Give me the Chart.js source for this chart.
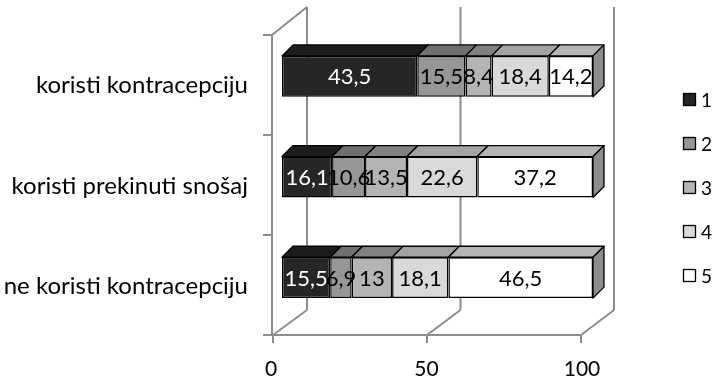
<!DOCTYPE html>
<html>
<head>
<meta charset="utf-8">
<script src="https://cdn.jsdelivr.net/npm/chart.js@4/dist/chart.umd.min.js"></script>
<style>
  html, body { margin: 0; padding: 0; background: #fff; }
  #wrap { width: 716px; height: 382px; }
</style>
</head>
<body>
<div id="wrap"><canvas id="c" width="716" height="382"></canvas></div>
<script>
// Categories (top to bottom) and the five answer groups, in percent
const categories = ['koristi kontracepciju', 'koristi prekinuti snošaj', 'ne koristi kontracepciju'];
const seriesNames = ['1', '2', '3', '4', '5'];
const s1 = [43.5, 16.1, 15.5];
const s2 = [15.5, 10.6, 6.9];
const s3 = [8.4, 13.5, 13];
const s4 = [18.4, 22.6, 18.1];
const s5 = [14.2, 37.2, 46.5];
const axisTicks = [0, 50, 100];

const frontColors = ['#262626', '#969696', '#b4b4b4', '#d9d9d9', '#ffffff'];
const topColors   = ['#1c1c1c', '#6f6f6f', '#818181', '#a3a3a3', '#b5b5b5'];
const sideColor = '#8c8c8c';
const frameColor = '#8c8c8c';
const FONT = 'Lato, "DejaVu Sans", sans-serif';

const DEPTH = 11; // bar depth offset (px, up and to the right)

function fmt(v) { return String(v).replace('.', ','); }

// Geometry helpers for the 3D frame, derived from the scales
function frameGeom(chart) {
  const xs = chart.scales.x, A = chart.chartArea;
  const px = v => xs.getPixelForValue(v);
  return {
    back: v => px(v) + 25 - 4 * (v / 100),
    floor: v => px(v) - 9 - 3 * (v / 100),
    backTop: A.top - 19,
    backBottom: A.bottom - 18,
    floorY: A.bottom + 7,
    sideTop: A.top + 9
  };
}

const framePlugin = {
  id: 'frame3d',
  beforeDatasetsDraw(chart) {
    const ctx = chart.ctx, A = chart.chartArea, ys = chart.scales.y;
    const g = frameGeom(chart);
    ctx.save();
    ctx.strokeStyle = frameColor;
    ctx.lineWidth = 2;
    ctx.lineCap = 'butt';
    const line = (x1, y1, x2, y2) => { ctx.beginPath(); ctx.moveTo(x1, y1); ctx.lineTo(x2, y2); ctx.stroke(); };
    const sideX = g.floor(0) - 1;
    // back wall gridlines and floor diagonals
    axisTicks.forEach(v => {
      line(g.back(v), g.backTop, g.back(v), g.backBottom);
      line(g.back(v), g.backBottom, g.floor(v), g.floorY);
      line(g.floor(v), g.floorY, g.floor(v), g.floorY + 8);
    });
    // front floor edge
    line(sideX - 1, g.floorY, g.floor(100) + 1, g.floorY);
    // side wall front edge + top diagonal
    line(sideX, g.sideTop, sideX, g.floorY);
    line(sideX, g.sideTop, g.back(0), g.backTop);
    // category separator ticks on the side wall edge
    const n = ys.ticks.length;
    for (let i = 0; i <= n; i++) {
      const y = g.sideTop + (g.floorY - g.sideTop) * i / n;
      line(sideX - 9, y, sideX, y);
    }
    ctx.restore();
  },
  afterDatasetsDraw(chart) {
    const ctx = chart.ctx;
    const nSets = chart.data.datasets.length;
    ctx.save();
    ctx.lineWidth = 1.3;
    ctx.strokeStyle = '#000';
    ctx.lineJoin = 'round';
    // top faces
    chart.data.datasets.forEach((ds, di) => {
      chart.getDatasetMeta(di).data.forEach(bar => {
        const x0 = Math.min(bar.base, bar.x), x1 = Math.max(bar.base, bar.x);
        const yt = bar.y - bar.height / 2;
        ctx.beginPath();
        ctx.moveTo(x0, yt); ctx.lineTo(x1, yt);
        ctx.lineTo(x1 + DEPTH, yt - DEPTH); ctx.lineTo(x0 + DEPTH, yt - DEPTH);
        ctx.closePath();
        ctx.fillStyle = topColors[di];
        ctx.fill(); ctx.stroke();
      });
    });
    // right side face of each bar (end of the last segment)
    chart.getDatasetMeta(nSets - 1).data.forEach(bar => {
      const x1 = Math.max(bar.base, bar.x);
      const yt = bar.y - bar.height / 2, yb = bar.y + bar.height / 2;
      ctx.beginPath();
      ctx.moveTo(x1, yt); ctx.lineTo(x1 + DEPTH, yt - DEPTH);
      ctx.lineTo(x1 + DEPTH, yb - DEPTH); ctx.lineTo(x1, yb);
      ctx.closePath();
      ctx.fillStyle = sideColor;
      ctx.fill(); ctx.stroke();
    });
    // value labels
    ctx.font = '22px ' + FONT;
    ctx.textAlign = 'center';
    ctx.textBaseline = 'middle';
    chart.data.datasets.forEach((ds, di) => {
      chart.getDatasetMeta(di).data.forEach((bar, i) => {
        ctx.fillStyle = di === 0 ? '#ffffff' : '#000000';
        ctx.fillText(fmt(ds.data[i]), (bar.base + bar.x) / 2, bar.y + 1);
      });
    });
    ctx.restore();
  },
  afterDraw(chart) {
    // legend on the right
    const ctx = chart.ctx;
    ctx.save();
    ctx.font = '19px ' + FONT;
    ctx.textAlign = 'left';
    ctx.textBaseline = 'middle';
    const startY = 100, step = 44;
    chart.data.datasets.forEach((ds, i) => {
      const cy = startY + i * step;
      ctx.fillStyle = ds.backgroundColor;
      ctx.fillRect(683.5, cy - 6.5, 12, 12);
      ctx.lineWidth = 1.3;
      ctx.strokeStyle = '#000';
      ctx.strokeRect(683.5, cy - 6.5, 12, 12);
      ctx.fillStyle = '#000';
      ctx.fillText(ds.label, 701, cy + 1);
    });
    ctx.restore();
  }
};

const seriesValues = [s1, s2, s3, s4, s5];

new Chart(document.getElementById('c'), {
  type: 'bar',
  data: {
    labels: categories,
    datasets: seriesNames.map((name, i) => ({
      label: name,
      data: seriesValues[i],
      backgroundColor: frontColors[i],
      borderColor: '#000',
      borderWidth: 1.5,
      borderSkipped: false,
      barPercentage: 0.406,
      categoryPercentage: 1
    }))
  },
  options: {
    indexAxis: 'y',
    responsive: false,
    animation: false,
    layout: { padding: { top: 26, right: 123, left: 0, bottom: 0 } },
    plugins: { legend: { display: false }, tooltip: { enabled: false } },
    scales: {
      x: {
        stacked: true,
        min: 0, max: 100,
        afterBuildTicks: s => { s.ticks = axisTicks.map(v => ({ value: v })); },
        grid: { display: false, drawTicks: false },
        border: { display: false },
        ticks: { padding: 29, labelOffset: -11, color: '#000', font: { family: FONT, size: 21 } },
        afterFit: s => { s.height = 54; }
      },
      y: {
        stacked: true,
        // invisible tick marks keep the labels clear of the side wall
        grid: { display: true, color: 'rgba(0,0,0,0)', drawOnChartArea: false, drawTicks: true, tickLength: 32 },
        border: { display: false },
        ticks: { padding: 2, labelOffset: 9, color: '#000', font: { family: FONT, size: 24 } },
        afterFit: s => { s.width = 282; }
      }
    }
  },
  plugins: [framePlugin]
});
</script>
</body>
</html>
